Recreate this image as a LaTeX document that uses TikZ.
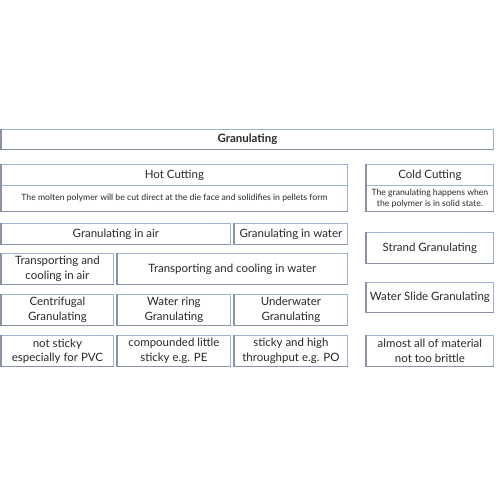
\documentclass[tikz,border=0pt]{standalone}
\usepackage{fontspec}
\setmainfont{Lato}
\definecolor{boxline}{RGB}{160,176,214}
\definecolor{boxshade}{RGB}{138,146,166}
\definecolor{boxtext}{RGB}{40,40,40}
\tikzset{
  chart/.style={x=0.3mm,y=-0.3mm,
    every node/.style={font=\fontsize{9.8}{12.2}\selectfont,text=boxtext,align=center}},
  box/.style={draw=boxline,line width=0.7pt,inner sep=0pt,rectangle,anchor=north west},
  cell/.style 2 args={minimum width=#1*0.3mm,minimum height=#2*0.3mm},
  note/.style={box,font=\fontsize{7.4}{9}\selectfont},
  head/.style={box,font=\bfseries\fontsize{9.8}{12.2}\selectfont},
  shade/.style={boxshade,line width=1pt}}

\begin{document}
\begin{tikzpicture}[chart]
  \useasboundingbox (0,0) rectangle (500,500);
  % top level
  \node[head, cell={492}{20}] (gran) at (1,129) {Granulating};
  \node[box, cell={346}{21}] (hot) at (1,164) {Hot Cutting};
  \node[note, cell={346}{26}] (hotdesc) at (1,185)
    {The molten polymer will be cut direct at the die face and solidifies in pellets form};
  \node[box, cell={127}{21}] (cold) at (366,164) {Cold Cutting};
  \node[note, cell={127}{26}] (colddesc) at (366,185)
    {The granulating happens when\\the polymer is in solid state.};
  % hot cutting branches
  \node[box, cell={229}{21}] (air) at (1,223) {Granulating in air};
  \node[box, cell={113}{21}] (water) at (234,223) {Granulating in water};
  \node[box, cell={112}{31}] (tair) at (1,253) {Transporting and\\cooling in air};
  \node[box, cell={230}{31}] (twater) at (117,253) {Transporting and cooling in water};
  \node[box, cell={112}{31}] (cent) at (1,294) {Centrifugal\\Granulating};
  \node[box, cell={113}{31}] (ring) at (117,294) {Water ring\\Granulating};
  \node[box, cell={113}{31}] (under) at (234,294) {Underwater\\Granulating};
  \node[box, cell={112}{31}] (pvc) at (1,335) {not sticky\\especially for PVC};
  \node[box, cell={113}{31}] (pe) at (117,335) {compounded little\\sticky e.g. PE};
  \node[box, cell={113}{31}] (po) at (234,335) {sticky and high\\throughput e.g. PO};
  % cold cutting branches
  \node[box, cell={127}{31}] (strand) at (366,232) {Strand Granulating};
  \node[box, cell={127}{30}] (slide) at (366,282) {Water Slide Granulating};
  \node[box, cell={127}{31}] (brittle) at (366,335) {almost all of material\\not too brittle};
  % darker left and bottom edges
  \foreach \n in {gran,hotdesc,colddesc,air,water,tair,twater,cent,ring,under,
                  pvc,pe,po,strand,slide,brittle}
    \draw[shade] (\n.north west) -- (\n.south west) -- (\n.south east);
  \draw[shade] (hot.north west) -- (hot.south west);
  \draw[shade] (cold.north west) -- (cold.south west);
\end{tikzpicture}
\end{document}
